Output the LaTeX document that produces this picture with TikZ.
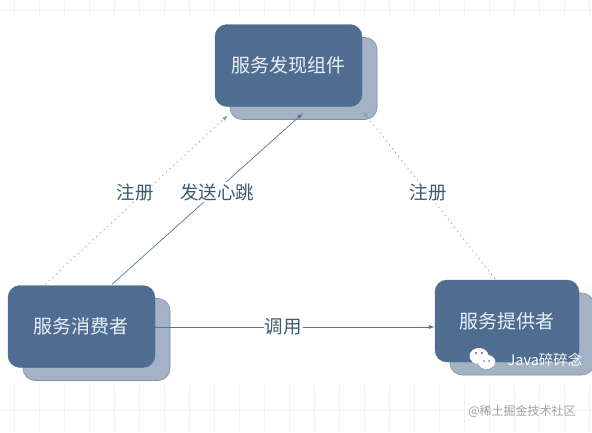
\documentclass[tikz,border=0pt]{standalone}
\usepackage{fontspec}
\setmainfont{Noto Sans CJK SC}
\usetikzlibrary{arrows.meta,calc,shadows}
\definecolor{boxblue}{HTML}{4F6D90}
\definecolor{boxshade}{HTML}{A4B2C5}
\definecolor{shadeline}{HTML}{7F90A8}
\definecolor{boxtext}{HTML}{EAF0F6}
\definecolor{linkblue}{HTML}{5B7891}
\definecolor{dotgray}{HTML}{8E9CAB}
\definecolor{labtext}{HTML}{3D5B70}
\definecolor{gridgray}{HTML}{F1F1F1}
\definecolor{markgray}{HTML}{9BA1A9}
\tikzset{svc/.style={draw=boxblue, fill=boxblue, rounded corners=12pt, text=boxtext, font=\fontsize{19}{22}\selectfont, minimum width=147pt, minimum height=82pt, copy shadow={shadow xshift=15pt, shadow yshift=-13pt, fill=boxshade, draw=shadeline, line width=.6pt}}, call/.style={-{Latex[length=6pt,width=4pt]}, line width=.7pt, color=linkblue}, reg/.style={-{Latex[length=6pt,width=4pt]}, line width=.9pt, color=dotgray, dash pattern=on 1pt off 4pt}, lab/.style={font=\fontsize{18.5}{21}\selectfont, text=labtext}}

\begin{document}
\begin{tikzpicture}[x=1pt,y=-1pt]
\useasboundingbox (0,0) rectangle (592,432);
\fill[white] (0,0) rectangle (592,432);
% faint grid at the edges
\foreach \gx in {14,39,...,589} {\draw[gridgray,line width=.8pt] (\gx,0)--(\gx,15); \draw[gridgray,line width=.8pt] (\gx,385)--(\gx,432);}
\draw[gridgray,line width=.8pt] (0,10)--(592,10); \draw[gridgray,line width=.8pt] (0,410)--(592,410);
\node[svc] (disc) at (288.5,65.5) {服务发现组件};
\node[svc] (cons) at (81.5,326.5) {服务消费者};
\node[svc, minimum width=144pt] (prov) at (507,321) {服务提供者};
\draw[reg] ($(cons.north)+(-36.5,-1)$) -- ($(disc.south)+(-60.5,8.5)$);
\draw[call] ($(cons.north)+(30.5,-1)$) -- ($(disc.south)+(14.5,6.5)$);
\draw[reg] ($(prov.north)+(-12,-1)$) -- ($(disc.south)+(74.5,4.5)$);
\draw[call] (cons.east |- 0,327) -- (prov.west |- 0,327);
\node[lab] (regl) at (135,192) {注册};
\node[lab, fill=white, inner sep=1pt] (beat) at (217,192) {发送心跳};
\node[lab] (regr) at (428,192) {注册};
\node[lab, fill=white, inner sep=1pt] (use) at (283,327) {调用};
% watermarks
\fill[white] (486.5,362) ellipse (9pt and 7.5pt); \fill[white] (479,356) ellipse (9.5pt and 8pt);
\draw[boxblue!70, line width=.5pt] (486.5,362) ellipse (9pt and 7.5pt);
\fill[white] (479,356) ellipse (8.8pt and 7.3pt);
\fill[boxblue] (476,353) circle (1.1pt); \fill[boxblue] (482,353) circle (1.1pt);
\fill[boxblue] (484,361) circle (.9pt); \fill[boxblue] (489,361) circle (.9pt);
\node[text=white, font=\fontsize{14.5}{17}\selectfont] (mark) at (545,360) {Java碎碎念};
\node[text=markgray, font=\fontsize{12}{15}\selectfont] (site) at (522,411) {@稀土掘金技术社区};
\end{tikzpicture}
\end{document}
